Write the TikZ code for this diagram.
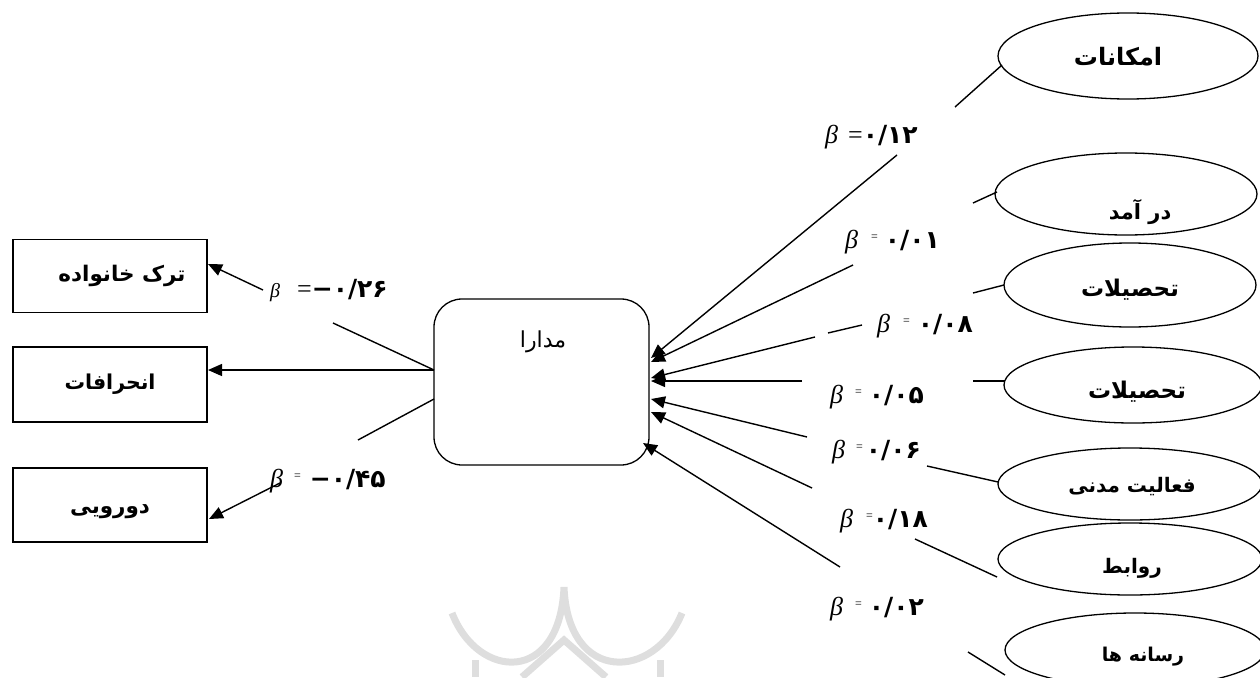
\documentclass[tikz,border=0pt]{standalone}
\usepackage{fontspec}
\usetikzlibrary{shapes.geometric,arrows.meta}
\TeXXeTstate=1
\newfontfamily\arabicfont[Script=Arabic]{DejaVu Sans}
\newfontfamily\tms{Liberation Serif}
\newcommand\FaB[2][21]{{\arabicfont\bfseries\fontsize{#1}{#1}\selectfont\beginR #2\endR}}
\newcommand\FaR[2][22]{{\arabicfont\fontsize{#1}{#1}\selectfont\beginR #2\endR}}
\newcommand\Bt{{\tms\itshape\fontsize{26}{26}\selectfont β}}
\newcommand\EqB{{\tms\fontsize{26}{26}\selectfont =}}
\newcommand\EqS{\raisebox{8pt}{\tms\fontsize{12}{12}\selectfont =}}
\newcommand\Dg[1]{{\arabicfont\bfseries\fontsize{25}{25}\selectfont #1}}
\newcommand\Mn{\hbox{\Dg{−}}}
\begin{document}
\begin{tikzpicture}[x=1pt,y=-1pt,
  conn/.style={line width=1.4pt},
  arr/.style={conn,-{Triangle[length=14pt,width=12pt]}},
  rbox/.style={draw,line width=1.3pt,minimum width=194pt,inner sep=0pt},
  ell/.style={draw,ellipse,line width=1.3pt,inner sep=0pt},
  etext/.style={inner sep=0pt},
  blabel/.style={anchor=base west,inner sep=0pt},
  wmark/.style={draw=black!13,line width=7pt}]
\useasboundingbox (0,0) rectangle (1260,677);

% watermark
\draw[wmark] (452,613) .. controls (478,680) and (560,685) .. (564,587)
             .. controls (568,685) and (655,680) .. (682,613);
\draw[wmark] (522,677) -- (564,640) -- (606,677);
\draw[wmark] (475,660) -- (475,677);
\draw[wmark] (660,660) -- (660,677);

% left boxes
\node[rbox,minimum height=73pt] (b1) at (110,276) {\hspace*{24pt}\FaB[21.5]{ترک خانواده}};
\node[rbox,minimum height=75pt] (b2) at (110,384.5) {\FaB[20.5]{انحرافات}};
\node[rbox,minimum height=74pt,text depth=0pt] (b3) at (110,505) {\raisebox{-8pt}{\FaB[21.5]{دورویی}}};

% centre box
\node[draw,line width=1.3pt,rounded corners=28pt,minimum width=215pt,minimum height=166pt,inner sep=0pt] (m) at (541.5,382) {};
\node[etext] (mt) at (543,342) {\FaR[22]{مدارا}};

% ellipses
\node[ell,minimum width=260pt,minimum height=86pt] (e1) at (1128,56) {};
\node[ell,minimum width=262pt,minimum height=82pt] (e2) at (1126,194) {};
\node[ell,minimum width=252pt,minimum height=84pt] (e3) at (1130,285) {};
\node[ell,minimum width=258pt,minimum height=76pt] (e4) at (1133,385) {};
\node[ell,minimum width=264pt,minimum height=72pt] (e5) at (1130,484) {};
\node[ell,minimum width=264pt,minimum height=72pt] (e6) at (1130,559) {};
\node[ell,minimum width=260pt,minimum height=74pt] (e7) at (1135,650) {};
\node[etext] (t1) at (1118,57) {\FaB[24]{امکانات}};
\node[etext] (t2) at (1140,212) {\FaB[21]{در آمد}};
\node[etext] (t3) at (1130,290) {\FaB[23]{تحصیلات}};
\node[etext] (t4) at (1137,392) {\FaB[23]{تحصیلات}};
\node[etext] (t5) at (1132,487) {\FaB[20]{فعالیت مدنی}};
\node[etext] (t6) at (1132,568) {\FaB[20]{روابط}};
\node[etext] (t7) at (1143,657) {\FaB[19]{رسانه ها}};

% coefficient labels
\node[blabel] (L26) at (270,297) {{\tms\itshape\fontsize{20}{20}\selectfont β}\hspace{17pt}\EqB\Mn\Dg{۰/۲۶}};
\node[blabel] (L45) at (270,487) {\Bt\hspace{11pt}\EqS\hspace{9pt}\Mn\Dg{۰/۴۵}};
\node[blabel] (L12) at (825,143) {\Bt\hspace{10pt}\EqB\hspace{0pt}\Dg{۰/۱۲}};
\node[blabel] (L01) at (845,248) {\Bt\hspace{13pt}\EqS\hspace{7pt}\Dg{۰/۰۱}};
\node[blabel] (L08) at (877,332) {\Bt\hspace{13pt}\EqS\hspace{8pt}\Dg{۰/۰۸}};
\node[blabel] (L05) at (830,403) {\Bt\hspace{12pt}\EqS\hspace{7pt}\Dg{۰/۰۵}};
\node[blabel] (L06) at (832,458) {\Bt\hspace{11pt}\EqS\hspace{3pt}\Dg{۰/۰۶}};
\node[blabel] (L18) at (840,527) {\Bt\hspace{13pt}\EqS\hspace{0pt}\Dg{۰/۱۸}};
\node[blabel] (L02) at (830,615) {\Bt\hspace{12pt}\EqS\hspace{7pt}\Dg{۰/۰۲}};

% connector points
\coordinate (l1s) at (434,370); \coordinate (l1a) at (333,323); \coordinate (l1b) at (263,290); \coordinate (l1e) at (208,264);
\coordinate (l2s) at (434,370); \coordinate (l2e) at (208,370);
\coordinate (l3s) at (434,399); \coordinate (l3a) at (358,440); \coordinate (l3b) at (280,483); \coordinate (l3e) at (209,519);

\coordinate (ra0) at (1002,65); \coordinate (ra1) at (955,107); \coordinate (ra2) at (897,155); \coordinate (rae) at (651,358);
\coordinate (rb0) at (997,192); \coordinate (rb1) at (973,203); \coordinate (rb2) at (853,265); \coordinate (rbe) at (651,362);
\coordinate (rc0) at (1004,285); \coordinate (rc1) at (973,293); \coordinate (rc2) at (862,325); \coordinate (rc3) at (828,333); \coordinate (rc4) at (815,337); \coordinate (rce) at (651,378);
\coordinate (rd0) at (1005,381); \coordinate (rd1) at (973,381); \coordinate (rd2) at (802,381); \coordinate (rde) at (651,381);
\coordinate (re0) at (998,482); \coordinate (re1) at (927,466); \coordinate (re2) at (807,437); \coordinate (ree) at (651,399);
\coordinate (rf0) at (997,577); \coordinate (rf1) at (915,539); \coordinate (rf2) at (812,488); \coordinate (rfe) at (651,412);
\coordinate (rg0) at (1005,675); \coordinate (rg1) at (968,652); \coordinate (rg2) at (840,567); \coordinate (rge) at (643,443);

% left connectors
\draw[conn] (l1s) -- (l1a);
\draw[arr] (l1b) -- (l1e);
\draw[arr] (l2s) -- (l2e);
\draw[conn] (l3s) -- (l3a);
\draw[arr] (l3b) -- (l3e);

% right connectors
\draw[conn] (ra0) -- (ra1); \draw[arr] (ra2) -- (rae);
\draw[conn] (rb0) -- (rb1); \draw[arr] (rb2) -- (rbe);
\draw[conn] (rc0) -- (rc1); \draw[conn] (rc2) -- (rc3); \draw[arr] (rc4) -- (rce);
\draw[conn] (rd0) -- (rd1); \draw[arr] (rd2) -- (rde);
\draw[conn] (re0) -- (re1); \draw[arr] (re2) -- (ree);
\draw[conn] (rf0) -- (rf1); \draw[arr] (rf2) -- (rfe);
\draw[conn] (rg0) -- (rg1); \draw[arr] (rg2) -- (rge);
\end{tikzpicture}
\end{document}
